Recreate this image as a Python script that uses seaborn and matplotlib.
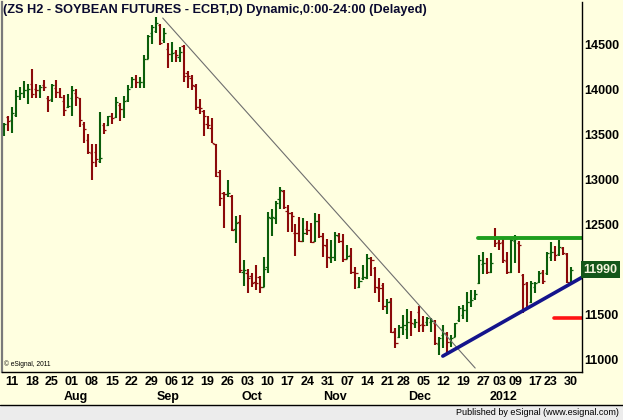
import numpy as np
import pandas as pd
import matplotlib
matplotlib.use("Agg")
import matplotlib.pyplot as plt
import matplotlib.transforms as mtransforms
from matplotlib.patches import Rectangle
import seaborn as sns

# ---------------- data ----------------
holidays = ["2011-09-05", "2011-11-24", "2011-12-26", "2012-01-02", "2012-01-16"]
start_date, end_date = "2011-07-07", "2012-01-30"

opens = [13518, 13692, 13652, 13711, 13926, 13952, 13989, 14052, 14000, 13985,
         14044, 13904, 13885, 14015, 13970, 13870, 13796, 13896, 13959, 13904,
         13607, 13433, 13285, 13296, 13200, 13600, 13600, 13704, 13692, 13822,
         13774, 13878, 14018, 14107, 14074, 14074, 14337, 14618, 14644, 14711,
         14544, 14441, 14389, 14415, 14359, 14478, 14174, 14126, 14033, 13796,
         13756, 13607, 13570, 13389, 13081, 12845, 12833, 12811, 12441, 12526,
         11970, 11959, 11922, 11859, 11907, 11804, 12019, 12563, 12563, 12774,
         12870, 12640, 12626, 12404, 12404, 12311, 12441, 12430, 12315, 12537,
         12367, 12256, 12125, 12130, 12367, 12315, 12107, 12156, 11963, 11804,
         11896, 11896, 12119, 12015, 11793, 11822, 11593, 11644, 11311, 11248,
         11359, 11333, 11415, 11385, 11519, 11389, 11407, 11415, 11396, 11163,
         11267, 11285, 11185, 11248, 11433, 11489, 11544, 11637, 11674, 11841,
         12055, 12070, 11970, 12341, 12300, 12304, 12093, 11970, 12315, 12293,
         11933, 11841, 11637, 11804, 11859, 11970, 11952, 12137, 12193, 12167,
         12230, 12167, 11859]
highs = [13618, 13700, 13800, 13989, 14018, 14089, 14052, 14222, 14052, 14044,
         14100, 13922, 14052, 14100, 14015, 13933, 13941, 14033, 14000, 13904,
         13637, 13500, 13389, 13389, 13748, 13618, 13704, 13730, 13911, 13841,
         13922, 14044, 14137, 14155, 14137, 14378, 14600, 14711, 14796, 14722,
         14674, 14507, 14526, 14433, 14463, 14489, 14204, 14155, 14055, 13885,
         13767, 13700, 13682, 13389, 13100, 12859, 12989, 12822, 12589, 12600,
         12100, 11996, 11952, 12044, 11922, 12130, 12637, 12663, 12759, 12915,
         12878, 12711, 12637, 12500, 12581, 12563, 12537, 12507, 12626, 12615,
         12404, 12330, 12322, 12415, 12404, 12389, 12267, 12237, 12026, 11915,
         12044, 12163, 12137, 12026, 11904, 11841, 11667, 11681, 11341, 11378,
         11489, 11556, 11533, 11444, 11593, 11481, 11470, 11452, 11433, 11248,
         11378, 11296, 11267, 11396, 11593, 11600, 11748, 11767, 11767, 12155,
         12193, 12119, 12174, 12452, 12322, 12341, 12193, 12359, 12378, 12315,
         11944, 11859, 11870, 11859, 11981, 11989, 12193, 12304, 12255, 12322,
         12241, 12174, 12018]
lows = [13481, 13533, 13515, 13692, 13878, 13896, 13837, 13896, 13904, 13904,
        13978, 13741, 13859, 13896, 13896, 13704, 13793, 13704, 13815, 13581,
        13404, 13278, 12989, 13137, 13180, 13500, 13593, 13607, 13674, 13648,
        13674, 13859, 14007, 14007, 14007, 14007, 14330, 14500, 14626, 14489,
        14515, 14237, 14304, 14304, 14304, 14081, 14007, 13989, 13767, 13722,
        13482, 13552, 13396, 13026, 12700, 12459, 12796, 12422, 12293, 11952,
        11811, 11737, 11804, 11767, 11737, 11796, 11952, 12367, 12500, 12663,
        12663, 12415, 12415, 12150, 12304, 12304, 12378, 12285, 12304, 12341,
        12130, 12007, 12063, 12093, 12293, 12081, 12107, 11941, 11778, 11793,
        11878, 11889, 11926, 11730, 11637, 11544, 11496, 11285, 11119, 11230,
        11267, 11222, 11259, 11341, 11296, 11296, 11370, 11296, 11156, 11044,
        11119, 11052, 11137, 11248, 11415, 11444, 11415, 11581, 11656, 11833,
        11944, 11944, 11952, 12241, 12211, 12070, 11944, 11952, 12063, 11952,
        11507, 11563, 11626, 11730, 11841, 11833, 11933, 12093, 12093, 12144,
        12155, 11841, 11848]
closes = [13611, 13644, 13730, 13926, 13952, 13989, 14000, 13941, 13985, 14018,
          14018, 13878, 14044, 13970, 13907, 13767, 13815, 13985, 13907, 13656,
          13556, 13304, 13193, 13218, 13230, 13544, 13700, 13681, 13852, 13774,
          13870, 13996, 14111, 14081, 14080, 14337, 14589, 14692, 14730, 14515,
          14618, 14389, 14400, 14378, 14415, 14144, 14144, 14044, 13796, 13790,
          13700, 13600, 13396, 13033, 12785, 12830, 12848, 12433, 12507, 11989,
          11989, 11896, 11848, 11848, 11804, 11996, 12574, 12574, 12737, 12878,
          12685, 12620, 12590, 12395, 12311, 12404, 12430, 12304, 12537, 12367,
          12267, 12130, 12135, 12378, 12311, 12107, 12144, 11963, 11952, 11867,
          11907, 12119, 12100, 11804, 11785, 11593, 11637, 11304, 11174, 11359,
          11378, 11415, 11396, 11407, 11378, 11375, 11452, 11422, 11174, 11230,
          11285, 11185, 11237, 11396, 11563, 11544, 11637, 11656, 11722, 12100,
          12063, 11970, 12070, 12285, 12290, 12100, 11970, 12322, 12330, 12267,
          11833, 11574, 11841, 11841, 11952, 11870, 12174, 12193, 12155, 12241,
          12174, 11859, 11990]

price_ticks = [11000, 11500, 12000, 12500, 13000, 13500, 14000, 14500]
price_tick_labels = ["11000", "11500", "", "12500", "13000", "13500", "14000", "14500"]
month_names = {8: "Aug", 9: "Sep", 10: "Oct", 11: "Nov", 12: "Dec", 1: "2012"}
last_price_label = "11990"

# drawn studies (bar index / price)
down_trend_x = [39.75, 118.0]
down_trend_y = [14789, 10900]
up_trend_x = [109.9, 144.75]
up_trend_y = [11033, 11908]
resistance_x = [118.75, 144.75]
resistance_y = [12348, 12348]
support_x = [137.75, 144.75]
support_y = [11452, 11452]

title = "(ZS H2 - SOYBEAN FUTURES - ECBT,D) Dynamic,0:00-24:00 (Delayed)"

# ---------------- build frame ----------------
days = pd.bdate_range(start_date, end_date)
days = days[~days.isin(pd.to_datetime(holidays))]
df = pd.DataFrame({"date": days, "open": opens, "high": highs,
                   "low": lows, "close": closes})
df["idx"] = np.arange(len(df))

BG = "#ffffe0"
GREEN = "#0b5e0b"
RED = "#8b0a0a"

sns.set_style("white")
plt.rcParams["font.family"] = ["Liberation Sans", "DejaVu Sans"]

W, H = 623, 420
fig = plt.figure(figsize=(W / 100, H / 100), dpi=100, facecolor=BG)
ax = fig.add_axes([2 / W, 48 / H, 580 / W, 370 / H])
ax.set_facecolor(BG)

up = df["close"] >= df["open"]
cols = np.where(up, GREEN, RED)
ax.vlines(df["idx"], df["low"], df["high"], colors=cols, lw=1.5)
ax.hlines(df["open"], df["idx"] - 0.55, df["idx"], colors=cols, lw=0.9)
ax.hlines(df["close"], df["idx"], df["idx"] + 0.55, colors=cols, lw=0.9)

sns.lineplot(x=down_trend_x, y=down_trend_y, ax=ax, color="#6e6e6e", lw=0.8)
sns.lineplot(x=up_trend_x, y=up_trend_y, ax=ax, color="#14148c", lw=2.6)
sns.lineplot(x=resistance_x, y=resistance_y, ax=ax, color="#1e9e1e", lw=2.8)
sns.lineplot(x=support_x, y=support_y, ax=ax, color="#ff1414", lw=2.6)

ax.set_xlim(-0.5, 144.75)
ax.set_ylim(10856, 14967)

# right price axis
ax.yaxis.tick_right()
ax.set_yticks(price_ticks)
ax.set_yticklabels(price_tick_labels)
ax.tick_params(axis="y", length=0, pad=1.5, labelsize=9, labelcolor="black")
for t in ax.get_yticklabels():
    t.set_fontweight("bold")

# weekly x ticks (first trading day of each full week shown)
wk = df["date"].dt.isocalendar().week
first_of_week = df.groupby(wk.values)["idx"].min().sort_values().values
first_of_week = [i for i in first_of_week if i > 0]
ax.set_xticks(first_of_week)
ax.set_xticklabels([f"{df['date'][i].day:02d}" for i in first_of_week])
ax.tick_params(axis="x", length=0, pad=3, labelsize=9, labelcolor="black")
for t in ax.get_xticklabels():
    t.set_fontweight("bold")

# month labels
mon = df["date"].dt.month
first_of_month = df.groupby(mon.values)["idx"].min()
trans = mtransforms.blended_transform_factory(ax.transData, ax.transAxes)
for m, i in first_of_month.items():
    if m in month_names and i > 0:
        ax.text(i + 1.0, -0.068, month_names[m], transform=trans, ha="center",
                va="center", fontsize=9, fontweight="bold", color="black")

ax.set_xlabel("")
ax.set_ylabel("")
ax.spines["top"].set_visible(False)
ax.spines["left"].set_color("#7a7a7a")
ax.spines["left"].set_linewidth(1.6)
ax.spines["right"].set_color("black")
ax.spines["right"].set_linewidth(1.0)
ax.spines["bottom"].set_color("black")
ax.spines["bottom"].set_linewidth(1.0)

ax.text(0.002, 0.978, title, transform=ax.transAxes, ha="left", va="center",
        fontsize=9.2, fontweight="bold", color="#0a0a30")
ax.text(0.004, 0.021, "\u00a9 eSignal, 2011", transform=ax.transAxes, ha="left",
        va="center", fontsize=4.8, color="black")

# last price box
tb = mtransforms.blended_transform_factory(ax.transAxes, ax.transData)
ax.text(1.003, closes[-1], last_price_label, transform=tb, ha="left", va="center",
        fontsize=9, fontweight="bold", color="#f4f4dc",
        bbox=dict(boxstyle="square,pad=0.2", fc="#14561a", ec="none"))

# bottom band
fig.patches.append(Rectangle((0, 0), 1, 15 / H, transform=fig.transFigure,
                             facecolor="#ececec", edgecolor="none", zorder=0))
fig.lines.append(plt.Line2D([0, 1], [15 / H, 15 / H], transform=fig.transFigure,
                            color="black", lw=1.0))
fig.text(619 / W, 7.5 / H, "Published by eSignal (www.esignal.com)", ha="right",
         va="center", fontsize=6.5, color="black")

fig.savefig("out.png", dpi=100, facecolor=BG)
